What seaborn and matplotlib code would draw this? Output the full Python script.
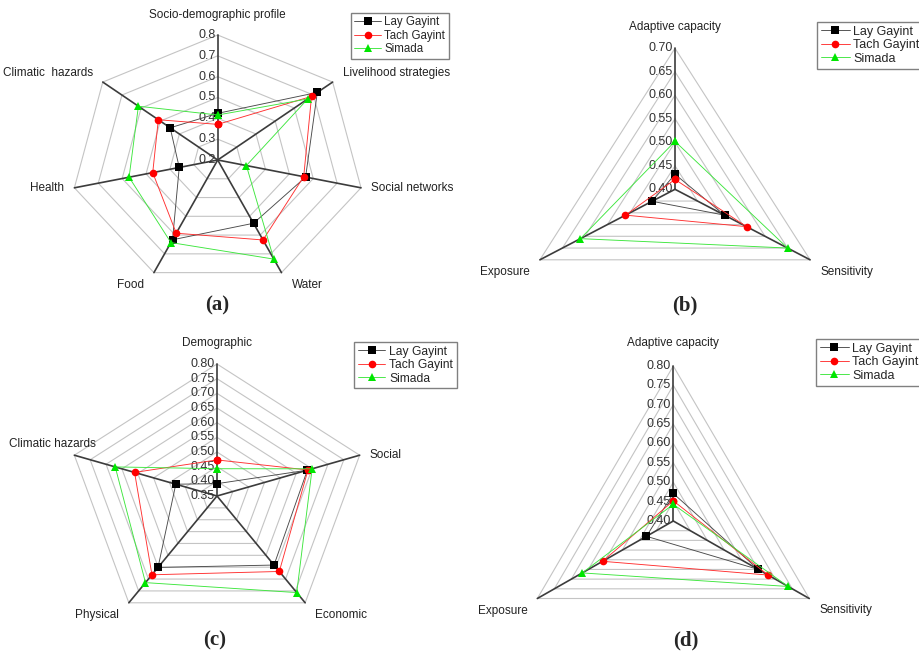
import numpy as np
import pandas as pd
import matplotlib
matplotlib.use("Agg")
import matplotlib.pyplot as plt
import seaborn as sns

sns.set_style("white")
plt.rcParams["font.family"] = ["Liberation Sans", "DejaVu Sans"]

W, H = 919, 652
series = ["Lay Gayint", "Tach Gayint", "Simada"]
colors = {"Lay Gayint": "#000000", "Tach Gayint": "#ff0000", "Simada": "#00e600"}
line_colors = {"Lay Gayint": "#4a4a4a", "Tach Gayint": "#ff3030", "Simada": "#3ee63e"}
markers = ["s", "o", "^"]

# (a) livelihood vulnerability index, major components
cats_a = ["Socio-demographic profile", "Livelihood strategies", "Social networks",
          "Water", "Food", "Health", "Climatic  hazards"]
lay_a = [0.424, 0.72, 0.568, 0.537, 0.625, 0.361, 0.448]
tach_a = [0.371, 0.69, 0.56, 0.626, 0.59, 0.472, 0.51]
sim_a = [0.416, 0.67, 0.32, 0.728, 0.64, 0.571, 0.614]
ticks_a = [0.2, 0.3, 0.4, 0.5, 0.6, 0.7, 0.8]

# (b) LVI-IPCC contributing factors
cats_b = ["Adaptive capacity", "Sensitivity", "Exposure"]
lay_b = [0.432, 0.51, 0.451]
tach_b = [0.421, 0.559, 0.51]
sim_b = [0.502, 0.65, 0.61]
ticks_b = [0.40, 0.45, 0.50, 0.55, 0.60, 0.65, 0.70]

# (c) capitals
cats_c = ["Demographic", "Social", "Economic", "Physical", "Climatic hazards"]
lay_c = [0.392, 0.635, 0.641, 0.651, 0.48]
tach_c = [0.473, 0.637, 0.668, 0.682, 0.61]
sim_c = [0.443, 0.65, 0.757, 0.715, 0.671]
ticks_c = [0.35, 0.40, 0.45, 0.50, 0.55, 0.60, 0.65, 0.70, 0.75, 0.80]

# (d) contributing factors
cats_d = ["Adaptive capacity", "Sensitivity", "Exposure"]
lay_d = [0.471, 0.65, 0.479]
tach_d = [0.452, 0.679, 0.608]
sim_d = [0.443, 0.738, 0.668]
ticks_d = [0.40, 0.45, 0.50, 0.55, 0.60, 0.65, 0.70, 0.75, 0.80]

fig = plt.figure(figsize=(W / 100, H / 100), dpi=100)


def radar(rect, center, scale, cats, vals, ticks, fmt, legend_pos, legend_fs,
          overrides=None):
    L, R, T, B = rect
    cx, cy = center
    rx, ry = scale
    ax = fig.add_axes([L / W, 1 - B / H, (R - L) / W, (B - T) / H])
    ax.set_xlim((L - cx) / rx, (R - cx) / rx)
    ax.set_ylim((cy - B) / ry, (cy - T) / ry)
    ax.axis("off")

    n = len(cats)
    ang = 2 * np.pi * np.arange(n) / n
    sx, sy = np.sin(ang), np.cos(ang)
    lo, hi = ticks[0], ticks[-1]

    # polygon grid rings
    for t in ticks[1:]:
        f = (t - lo) / (hi - lo)
        ax.plot(np.append(sx, sx[0]) * f, np.append(sy, sy[0]) * f,
                color="#c4c4c4", lw=0.8, zorder=1)
    # spokes
    for i in range(n):
        ax.plot([0, sx[i]], [0, sy[i]], color="#3c3c3c", lw=1.2, zorder=2)

    # tick labels along the top spoke
    for t in ticks:
        f = (t - lo) / (hi - lo)
        ax.text(-0.015, f, fmt % t, ha="right", va="center", fontsize=9,
                color="#333333", zorder=3)

    # category labels
    overrides = overrides or {}
    for i, c in enumerate(cats):
        px, py = cx + sx[i] * rx, cy - sy[i] * ry
        if i == 0:
            ha, va, dx, dy = "center", "bottom", 0, -(0.11 * ry)
        else:
            ha = "left" if sx[i] > 0 else "right"
            dx = 10 if sx[i] > 0 else -10
            if sy[i] > 0.35:
                va, dy = "bottom", -3
            elif sy[i] < -0.35:
                va, dy = "top", 6
            else:
                va, dy = "center", 0
        if c in overrides:
            dx, dy, ha, va = overrides[c]
        fig.text((px + dx) / W, 1 - (py + dy) / H, c, ha=ha, va=va,
                 fontsize=8.5, color="#222222")

    # data
    rows = []
    for s, v in zip(series, vals):
        f = (np.array(v) - lo) / (hi - lo)
        xs = np.append(sx * f, sx[0] * f[0])
        ys = np.append(sy * f, sy[0] * f[0])
        for k, (x, y) in enumerate(zip(xs, ys)):
            rows.append({"series": s, "x": x, "y": y, "order": k})
    df = pd.DataFrame(rows)
    n_before = len(ax.lines)
    sns.lineplot(data=df, x="x", y="y", hue="series", style="series",
                 palette=colors, markers=markers, dashes=False, sort=False,
                 estimator=None, linewidth=0.65, markersize=5.5,
                 markeredgewidth=0, ax=ax, zorder=4)
    ax.set_xlabel("")
    ax.set_ylabel("")
    # thin, slightly lighter connecting lines; markers keep the full colour
    for ln, s in zip(ax.lines[n_before:], series):
        ln.set_color(line_colors[s])
        ln.set_markerfacecolor(colors[s])
    handles, labels = ax.get_legend_handles_labels()
    ax.get_legend().remove()
    for h, s in zip(handles, labels):
        h.set_markeredgewidth(0)
        h.set_linewidth(0.65)
        h.set_markersize(5.5)
        h.set_color(line_colors[s])
        h.set_markerfacecolor(colors[s])
    lx, ly = legend_pos
    leg = ax.legend(handles, labels, loc="upper left",
                    bbox_to_anchor=(lx / W, 1 - ly / H),
                    bbox_transform=fig.transFigure, borderaxespad=0,
                    fontsize=legend_fs, frameon=True, fancybox=False,
                    framealpha=1, edgecolor="#808080", borderpad=0.3,
                    labelspacing=0.12, handlelength=2.3, handletextpad=0.3)
    leg.get_frame().set_linewidth(1.0)
    return ax


radar((0, 460, 0, 300), (217.7, 160), (147, 125), cats_a,
      [lay_a, tach_a, sim_a], ticks_a, "%.1f", (351, 13), 8.3)
radar((460, 919, 0, 300), (675, 189.3), (156, 141), cats_b,
      [lay_b, tach_b, sim_b], ticks_b, "%.2f", (817, 22), 9)
radar((0, 460, 320, 630), (217, 496), (150, 132), cats_c,
      [lay_c, tach_c, sim_c], ticks_c, "%.2f", (354, 342), 8.7,
      overrides={"Climatic hazards": (-22, -11, "center", "center")})
radar((460, 919, 320, 630), (673.3, 521), (157, 155), cats_d,
      [lay_d, tach_d, sim_d], ticks_d, "%.2f", (816, 339), 9)

for lab, x, y in [("(a)", 217, 305), ("(b)", 685, 305),
                  ("(c)", 215, 640), ("(d)", 686, 640)]:
    fig.text(x / W, 1 - y / H, lab, ha="center", va="center", fontsize=15,
             fontweight="bold", family=["Liberation Serif", "DejaVu Serif"])

fig.savefig("out.png", dpi=100)
